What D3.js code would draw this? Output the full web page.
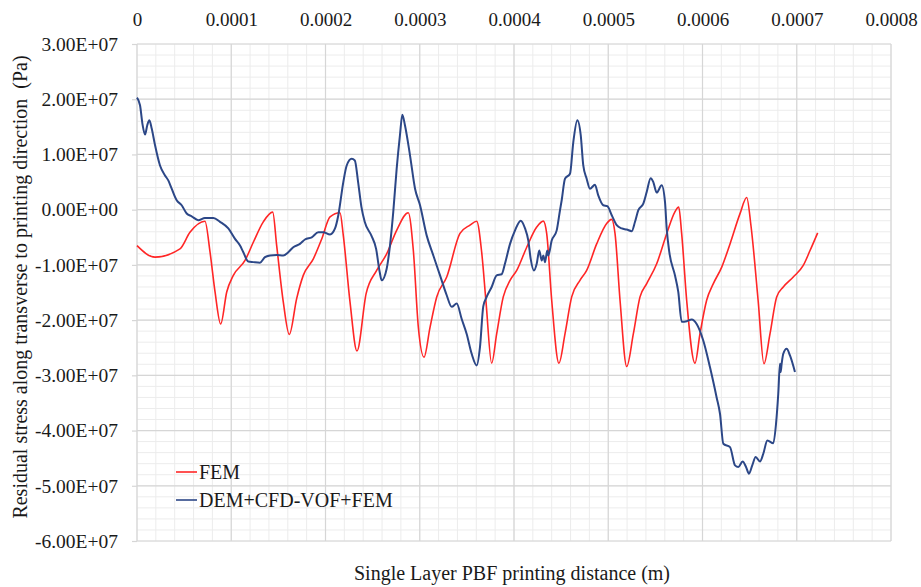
<!DOCTYPE html>
<html>
<head>
<meta charset="utf-8">
<script src="https://cdn.jsdelivr.net/npm/d3@7"></script>
<style>
  body { margin: 0; background: #fff; }
  svg { display: block; }
  svg text { font-family: "Liberation Serif", "Times New Roman", Times, "DejaVu Serif", serif; fill: #1a1a1a; }
</style>
</head>
<body>
<svg id="chart" width="921" height="587"></svg>
<script>
// Printing distance in micrometres, residual stress in MPa
const femDistanceUm = [0, 19.1, 45.6, 56.2, 72.1, 77.5, 82.8, 88.8, 95.2, 102.2, 114.6, 123.4, 134.0, 144.0,
  148.2, 155.2, 161.6, 169.4, 176.4, 187.1, 196.0, 204.8, 215.4, 218.9, 226.0, 233.4, 243.1, 254.3, 264.9,
  275.5, 287.8, 293.2, 298.5, 304.5, 310.9, 318.0, 328.6, 342.7, 353.3, 360.4, 365.7, 370.3, 376.3, 381.6,
  388.6, 395.8, 402.9, 413.5, 424.1, 431.1, 434.7, 440.0, 447.7, 454.1, 461.2, 470.0, 477.1, 487.7, 498.3,
  503.6, 507.2, 512.5, 519.6, 526.6, 533.7, 540.8, 551.4, 562.0, 570.6, 574.8, 577.9, 583.2, 592.0, 597.3,
  604.4, 611.5, 620.4, 629.2, 639.8, 646.9, 651.5, 659.0, 665.2, 671.6, 678.7, 685.7, 696.3, 706.9, 714.1, 722.2];
const femStressMPa = [-6.5, -8.6, -7.1, -4.1, -2.1, -7.7, -14.9, -20.7, -14.9, -11.9, -9.2, -5.9, -2.2, -0.45,
  -6.5, -16.7, -22.6, -16.1, -11.9, -8.9, -5.3, -1.3, -0.55, -4.7, -16.7, -25.6, -15.2, -11.0, -8.0,
  -3.75, -0.55, -7.4, -21.3, -26.7, -21.3, -15.8, -12.2, -4.3, -2.8, -2.1, -7.7, -16.7, -27.8, -22.5,
  -15.8, -12.8, -11.0, -6.8, -3.15, -2.07, -4.35, -16.4, -27.8, -22.5, -15.8, -12.8, -11.0, -6.2, -2.5,
  -1.76, -4.35, -16.4, -28.4, -22.5, -15.8, -13.4, -9.8, -4.35, -0.43, 0.47, -4.35, -16.4, -27.8, -22.5,
  -16.4, -13.4, -10.4, -6.2, -0.72, 2.2, -3.0, -16.4, -27.9, -22.5, -15.8, -14.0, -12.2, -10.1, -7.4, -4.2];

const demDistanceUm = [0, 3.2, 6.0, 8.5, 10.9, 13.1, 15.6, 19.1, 24.4, 29.7, 33.2, 36.8, 42.1, 47.4, 52.7, 58.0,
  65.0, 72.1, 81.0, 88.1, 96.9, 104.0, 109.3, 112.8, 118.1, 123.4, 130.5, 135.8, 141.1, 148.2, 155.2, 160.5,
  165.8, 172.9, 178.2, 185.4, 192.4, 197.7, 204.8, 210.1, 213.6, 218.9, 222.5, 227.8, 231.1, 234.6, 238.1,
  241.6, 248.7, 253.7, 257.5, 259.6, 264.9, 268.4, 271.9, 275.5, 279.0, 281.5, 284.3, 289.7, 295.0, 300.3,
  307.4, 314.4, 321.5, 328.6, 333.9, 339.2, 344.5, 349.8, 355.1, 360.4, 363.9, 367.4, 371.0, 376.3, 381.6,
  386.9, 390.4, 395.8, 401.1, 407.1, 411.7, 415.2, 417.7, 421.2, 424.1, 426.8, 429.4, 431.1, 432.9, 435.3,
  436.4, 440.0, 445.3, 448.8, 450.6, 454.1, 459.4, 462.9, 467.2, 470.8, 473.5, 477.1, 480.6, 485.9, 489.4,
  494.7, 499.0, 503.7, 509.0, 514.3, 519.6, 524.9, 528.4, 531.9, 537.2, 540.8, 545.0, 547.8, 551.4, 556.7,
  560.2, 562.0, 564.8, 570.8, 574.3, 577.9, 583.2, 588.5, 593.8, 600.8, 607.9, 615.0, 618.6, 622.1, 629.2,
  634.5, 638.0, 642.6, 646.2, 649.3, 652.8, 656.4, 661.0, 664.5, 668.8, 675.1, 678.0, 680.4, 682.2, 682.9,
  684.0, 685.7, 689.3, 692.8, 698.1];
const demStressMPa = [20.3, 18.9, 15.3, 13.6, 15.3, 16.2, 14.7, 11.7, 8.0, 6.2, 5.3, 3.8, 1.7, 0.8, -0.7, -1.2,
  -1.9, -1.5, -1.5, -2.2, -3.4, -5.3, -6.5, -7.7, -9.4, -9.5, -9.6, -8.6, -8.3, -8.2, -8.3, -7.7,
  -6.8, -6.2, -5.4, -5.0, -4.1, -4.1, -4.5, -3.4, -1.0, 5.0, 8.0, 9.2, 8.9, 5.0, 0.5,
  -2.2, -4.7, -7.1, -11.3, -12.8, -10.7, -6.5, -0.4, 7.4, 13.5, 17.2, 15.3, 9.8, 3.8, 0.8,
  -4.7, -8.3, -11.9, -15.5, -17.6, -17.0, -19.8, -22.5, -26.1, -28.2, -24.9, -17.5, -15.8, -14.0, -11.9,
  -11.7, -9.8, -6.2, -3.75, -2.0, -3.4, -5.6, -8.9, -11.0, -9.8, -7.4, -9.2, -8.3, -9.5, -7.4,
  -8.3, -5.6, -3.75, -0.1, 1.7, 5.6, 6.5, 12.2, 16.2, 13.5, 8.0, 5.6, 3.8, 4.5, 2.6,
  0.8, 0.65, -1.0, -2.8, -3.4, -3.6, -3.9, -2.2, -0.1, 1.1, 3.2, 5.7, 5.0, 3.1, 4.4,
  1.4, -3.4, -7.7, -11.9, -14.9, -20.3, -20.2, -19.9, -20.7, -23.7, -28.5, -34.0, -37.0, -42.4, -43.0,
  -46.3, -46.6, -45.6, -46.6, -47.8, -46.3, -44.8, -45.6, -44.2, -41.8, -42.3, -38.8, -33.3, -27.9, -29.4,
  -27.9, -26.1, -25.2, -26.4, -29.4];

const xTickValues = [0, 0.0001, 0.0002, 0.0003, 0.0004, 0.0005, 0.0006, 0.0007, 0.0008];
const xTickLabels = ["0", "0.0001", "0.0002", "0.0003", "0.0004", "0.0005", "0.0006", "0.0007", "0.0008"];
const yTickValues = [3e7, 2e7, 1e7, 0, -1e7, -2e7, -3e7, -4e7, -5e7, -6e7];
const yTickLabels = ["3.00E+07", "2.00E+07", "1.00E+07", "0.00E+00", "-1.00E+07", "-2.00E+07",
  "-3.00E+07", "-4.00E+07", "-5.00E+07", "-6.00E+07"];

const seriesNames = ["FEM", "DEM+CFD-VOF+FEM"];
const seriesColors = ["#ff2626", "#2c4787"];

const serif = "'Liberation Serif', 'Times New Roman', Times, 'DejaVu Serif', serif";

const fem = femDistanceUm.map((d, i) => ({ x: d * 1e-6, y: femStressMPa[i] * 1e6 }));
const dem = demDistanceUm.map((d, i) => ({ x: d * 1e-6, y: demStressMPa[i] * 1e6 }));

const margin = { left: 137, right: 30, top: 44, bottom: 46 };
const W = 921, H = 587;
const svg = d3.select("#chart");

const x = d3.scaleLinear().domain([0, 0.0008]).range([margin.left, W - margin.right]);
const y = d3.scaleLinear().domain([-6e7, 3e7]).range([H - margin.bottom, margin.top]);

// Minor grid
const grid = svg.append("g");
grid.selectAll("line.mx").data(d3.range(0, 41).map(i => i * 0.00002))
  .join("line").attr("x1", d => x(d)).attr("x2", d => x(d))
  .attr("y1", y(3e7)).attr("y2", y(-6e7)).attr("stroke", "#ececec").attr("stroke-width", 1);
grid.selectAll("line.my").data(d3.range(0, 46).map(i => -6e7 + i * 2e6))
  .join("line").attr("x1", x(0)).attr("x2", x(0.0008))
  .attr("y1", d => y(d)).attr("y2", d => y(d)).attr("stroke", "#ececec").attr("stroke-width", 1);

// Major grid
grid.append("g").selectAll("line").data(xTickValues).join("line")
  .attr("x1", d => x(d)).attr("x2", d => x(d))
  .attr("y1", y(3e7)).attr("y2", y(-6e7)).attr("stroke", "#d6d6d6").attr("stroke-width", 1.2);
grid.append("g").selectAll("line").data(yTickValues).join("line")
  .attr("x1", x(0)).attr("x2", x(0.0008))
  .attr("y1", d => y(d)).attr("y2", d => y(d)).attr("stroke", "#d6d6d6").attr("stroke-width", 1.2);

// Top axis labels
const xAxis = d3.axisTop(x).tickValues(xTickValues)
  .tickFormat((d, i) => xTickLabels[i]).tickSize(0).tickPadding(0);
const gx = svg.append("g").attr("transform", `translate(0,${margin.top})`).call(xAxis)
  .attr("font-family", serif).attr("font-size", 19);
gx.select(".domain").remove();
gx.selectAll("text").attr("y", -18).attr("dy", 0).attr("fill", "#1a1a1a");

// Left axis labels with short outward ticks
const yAxis = d3.axisLeft(y).tickValues(yTickValues)
  .tickFormat((d, i) => yTickLabels[i]).tickSize(5).tickPadding(14);
const gy = svg.append("g").attr("transform", `translate(${margin.left},0)`).call(yAxis)
  .attr("font-family", serif).attr("font-size", 19.5);
gy.select(".domain").remove();
gy.selectAll(".tick line").attr("stroke", "#d6d6d6").attr("stroke-width", 1.2);
gy.selectAll("text").attr("fill", "#1a1a1a");

// Series lines
const line = d3.line().x(d => x(d.x)).y(d => y(d.y)).curve(d3.curveMonotoneX);
svg.append("path").datum(fem).attr("d", line).attr("fill", "none")
  .attr("stroke", seriesColors[0]).attr("stroke-width", 1.6).attr("stroke-linejoin", "round");
svg.append("path").datum(dem).attr("d", line).attr("fill", "none")
  .attr("stroke", seriesColors[1]).attr("stroke-width", 2).attr("stroke-linejoin", "round");

// Axis titles
svg.append("text").attr("x", 512).attr("y", 580).attr("text-anchor", "middle")
  .attr("font-family", serif).attr("font-size", 20)
  .text("Single Layer PBF printing distance (m)");
svg.append("text").attr("transform", "translate(27,287) rotate(-90)").attr("text-anchor", "middle")
  .attr("font-family", serif).attr("font-size", 20).style("white-space", "pre")
  .text("Residual stress along transverse to printing direction  (Pa)");

// Legend
const legend = svg.append("g").attr("font-family", serif).attr("font-size", 20);
seriesNames.forEach((name, i) => {
  const ly = 472 + i * 28;
  legend.append("line").attr("x1", 176).attr("x2", 197).attr("y1", ly).attr("y2", ly)
    .attr("stroke", seriesColors[i]).attr("stroke-width", 1.6);
  legend.append("text").attr("x", 199).attr("y", ly + 7).text(name);
});
</script>
</body>
</html>
